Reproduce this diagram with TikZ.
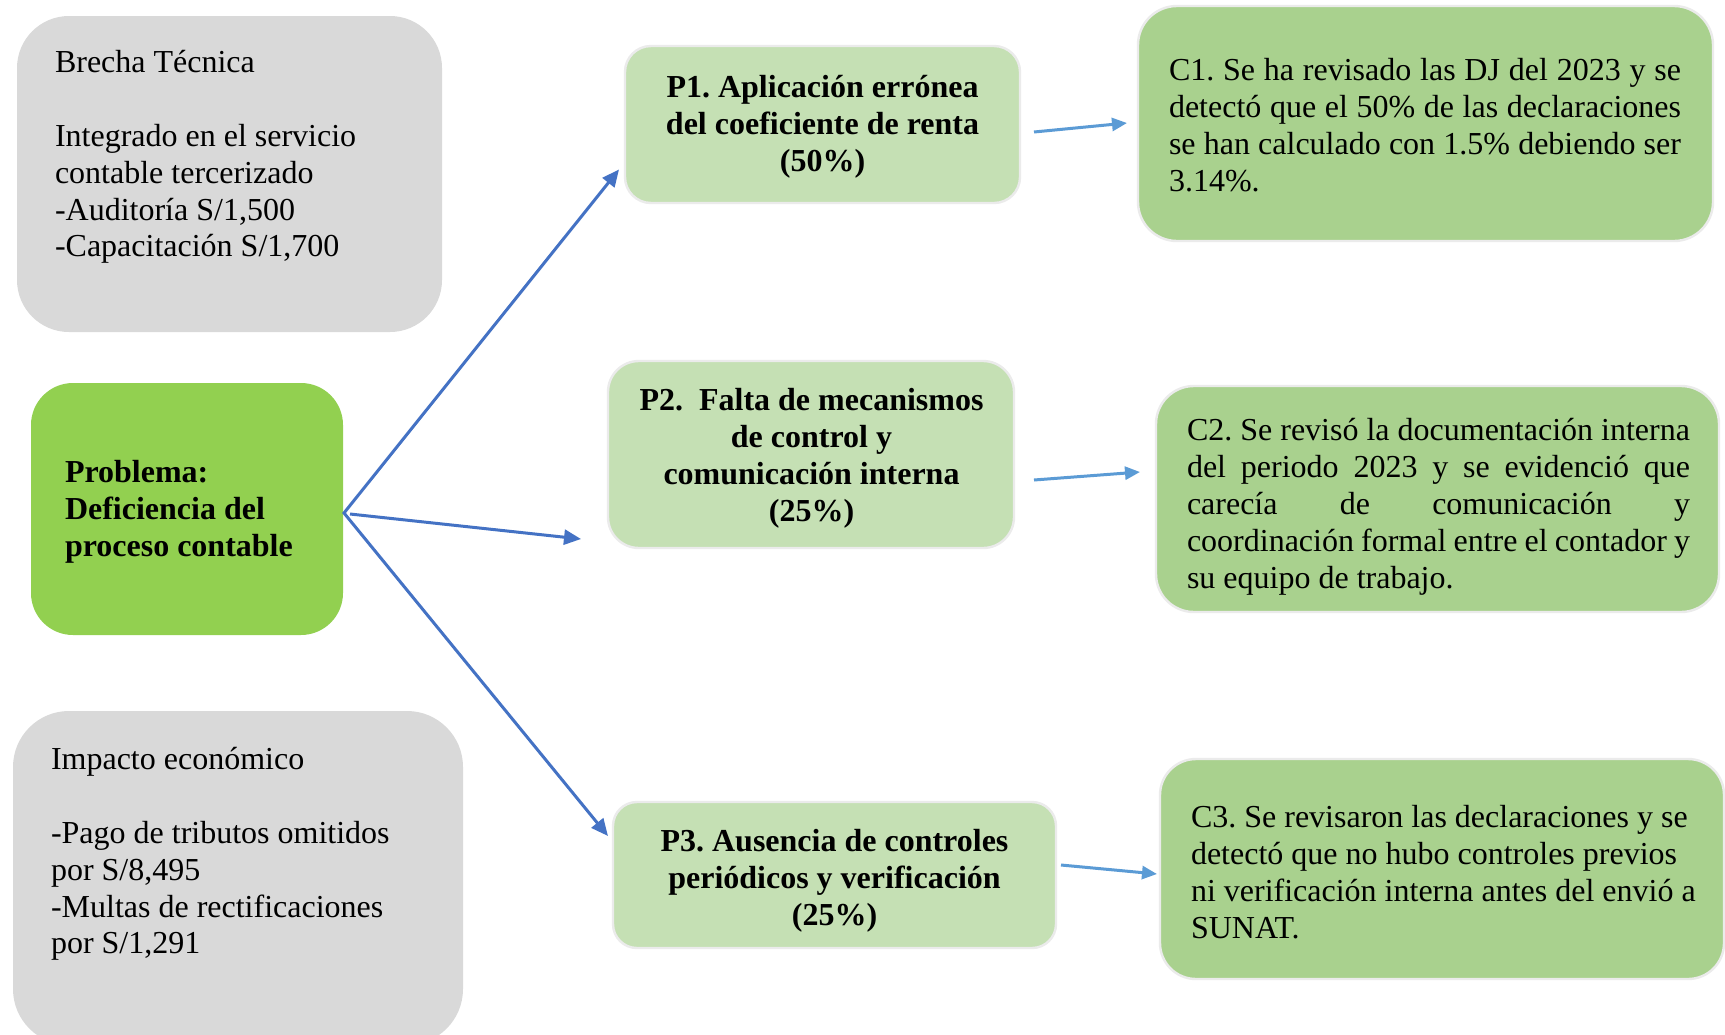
\documentclass[tikz,border=0pt]{standalone}
\usepackage{fontspec}
\setmainfont{Liberation Serif}
\usetikzlibrary{arrows.meta,calc}
\definecolor{graybox}{HTML}{D9D9D9}
\definecolor{probgreen}{HTML}{92D050}
\definecolor{pgreen}{HTML}{C5E0B4}
\definecolor{cgreen}{HTML}{A9D18E}
\definecolor{darkblue}{HTML}{4472C4}
\definecolor{lightblue}{HTML}{5B9BD5}
\definecolor{rim}{HTML}{EBEBEB}
\tolerance=10000
\hbadness=10000
\hfuzz=5pt
\frenchspacing
\begin{document}
\begin{tikzpicture}[x=0.5pt,y=-0.5pt,
  box/.style={rectangle, inner sep=0pt, outer sep=0pt},
  graycard/.style={box, fill=graybox},
  probcard/.style={box, fill=probgreen},
  pcard/.style={box, fill=pgreen, draw=rim, line width=1.2pt},
  ccard/.style={box, fill=cgreen, draw=rim, line width=1.2pt},
  txt/.style={inner sep=0pt, outer sep=0pt, font=\fontsize{16}{18.4}\selectfont\frenchspacing},
  lefttxt/.style={txt, anchor=north west, align=left},
  midtxt/.style={txt, anchor=north, align=center, font=\fontsize{16}{18.4}\selectfont\bfseries\frenchspacing},
  justtxt/.style={txt, anchor=north west, text width=#1, align=justify},
  darkarrow/.style={draw=darkblue, line width=1.5pt, {Triangle[length=8.5pt,width=7.5pt]}-{Triangle[length=8.5pt,width=7.5pt]}},
  darkone/.style={draw=darkblue, line width=1.5pt, -{Triangle[length=8.5pt,width=7.5pt]}},
  lightarrow/.style={draw=lightblue, line width=1.5pt, -{Triangle[length=7.5pt,width=6.5pt]}}
]
\path[use as bounding box, fill=white] (0,0) rectangle (1725,1034);

% boxes
\node[graycard, minimum width=212.5pt, minimum height=158pt, rounded corners=26pt] (brecha) at (229.5,174) {};
\node[probcard, minimum width=156pt, minimum height=126pt, rounded corners=21pt] (prob) at (187,509) {};
\node[graycard, minimum width=225pt, minimum height=167pt, rounded corners=28pt] (impacto) at (238,878) {};
\node[pcard, minimum width=197.5pt, minimum height=78.5pt, rounded corners=13pt] (p1) at (822.5,124.5) {};
\node[pcard, minimum width=203pt, minimum height=93.5pt, rounded corners=15.5pt] (p2) at (811,454.5) {};
\node[pcard, minimum width=221.5pt, minimum height=73pt, rounded corners=12pt] (p3) at (834.5,875) {};
\node[ccard, minimum width=287.5pt, minimum height=117.5pt, rounded corners=19.5pt] (c1) at (1425.5,123.5) {};
\node[ccard, minimum width=281.5pt, minimum height=113pt, rounded corners=19pt] (c2) at (1437.5,499) {};
\node[ccard, minimum width=282pt, minimum height=110pt, rounded corners=18pt] (c3) at (1442,869) {};

% texts
\node[lefttxt] (tbrecha) at (55,47.2) {\strut Brecha Técnica\\[18.4pt]Integrado en el servicio\\contable tercerizado\\-Auditoría S/1,500\\-Capacitación S/1,700};
\node[lefttxt] (timpacto) at (51,744.2) {\strut Impacto económico\\[18.4pt]-Pago de tributos omitidos\\por S/8,495\\-Multas de rectificaciones\\por S/1,291};
\node[lefttxt, font=\fontsize{16}{18.4}\selectfont\bfseries\frenchspacing] (tprob) at (65,457.2) {\strut Problema:\\Deficiencia del\\proceso contable};
\node[midtxt] (tp1) at (822.5,72.2) {\strut P1. Aplicación errónea\\del coeficiente de renta\\(50\%)};
\node[midtxt] (tp2) at (811.5,385.2) {\strut P2.\ \ Falta de mecanismos\\de control y\\comunicación interna\\(25\%)};
\node[midtxt] (tp3) at (834.5,826.2) {\strut P3. Ausencia de controles\\periódicos y verificación\\(25\%)};
\node[justtxt=256pt] (tc1) at (1169,55.2) {\strut C1. Se ha revisado las DJ del 2023 y se\linebreak detectó que el 50\% de las declaraciones\linebreak se han calculado con 1.5\% debiendo ser\linebreak 3.14\%.};
\node[justtxt=251.5pt] (tc2) at (1187,415.2) {\strut C2. Se revisó la documentación interna\linebreak del periodo 2023 y se evidenció que\linebreak carecía de comunicación y\linebreak coordinación formal entre el contador y\linebreak su equipo de trabajo.};
\node[lefttxt] (tc3) at (1191,802.2) {\strut C3. Se revisaron las declaraciones y se\\detectó que no hubo controles previos\\ni verificación interna antes del envió a\\SUNAT.};

% connectors
\coordinate (hub) at ($(prob.east)+(1,4)$);
\draw[darkarrow] ($(p1.west)+(-6,45)$) -- (hub) -- ($(p3.west)+(-5,-39)$);
\draw[darkone] ($(hub)+(6,1)$) -- ($(p2.west)+(-27,84.5)$);
\draw[lightarrow] ($(p1.east)+(14,7.5)$) -- ($(c1.west)+(-11,-0.5)$);
\draw[lightarrow] ($(p2.east)+(20,25.5)$) -- ($(c2.west)+(-16,-27)$);
\draw[lightarrow] ($(p3.east)+(5,-10)$) -- ($(c3.west)+(-3,5)$);
\end{tikzpicture}
\end{document}
